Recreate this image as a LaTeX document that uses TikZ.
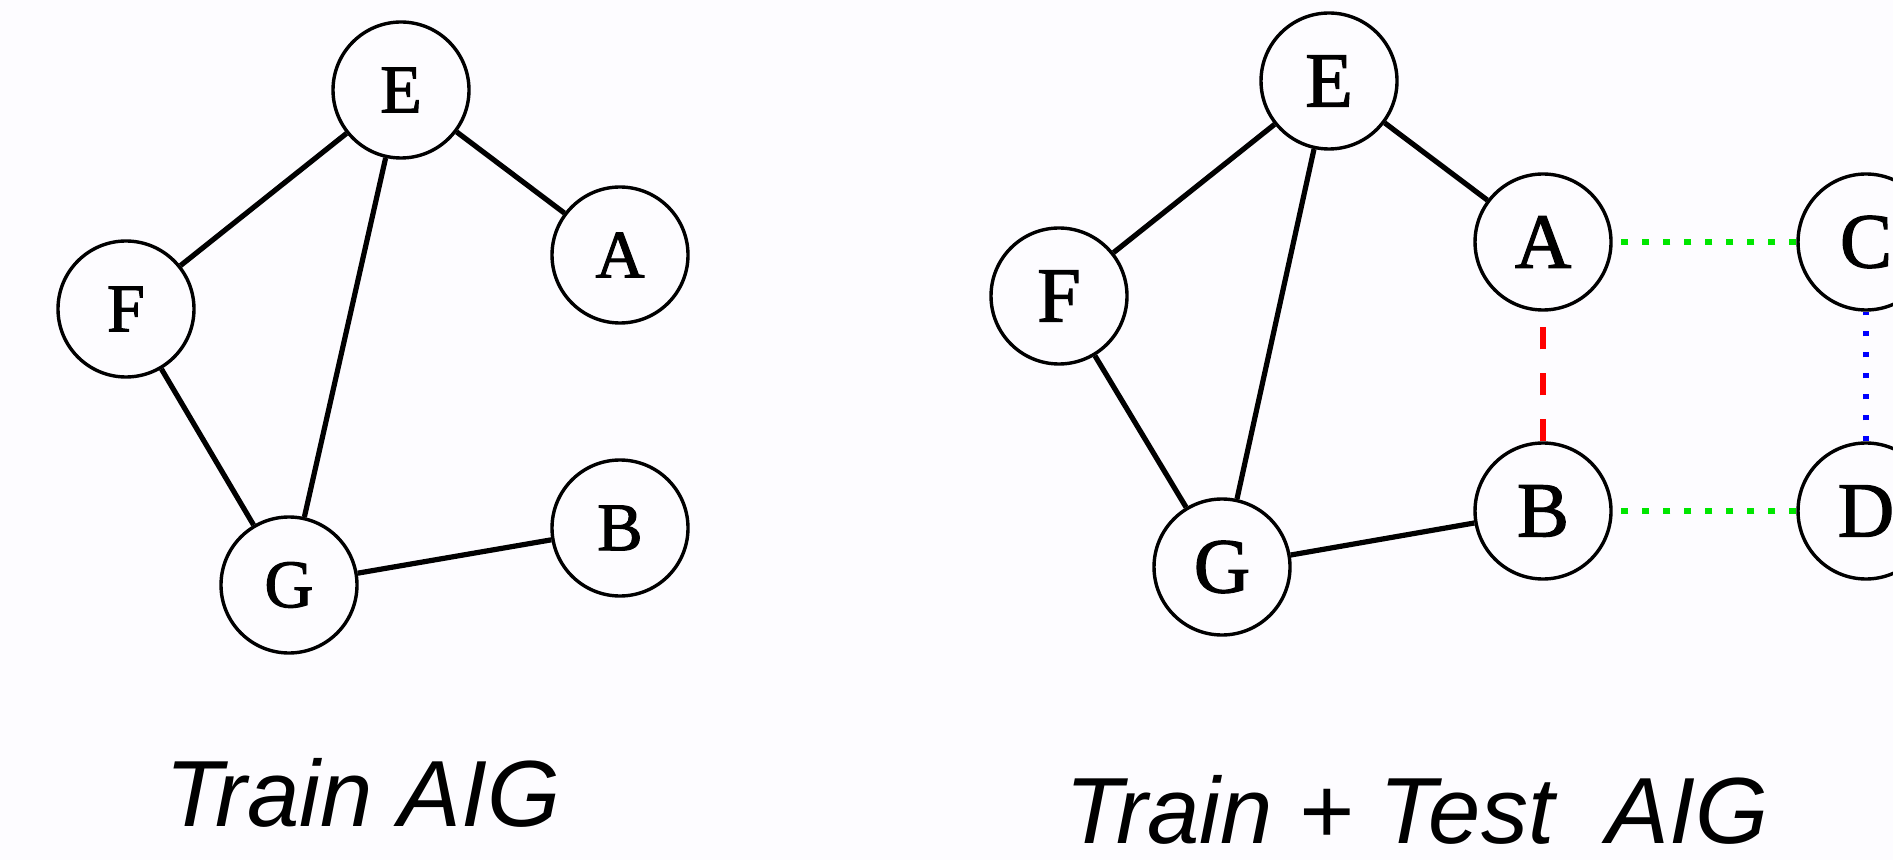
\documentclass[tikz,border=0pt]{standalone}
\usepackage{fontspec}
\setmainfont{Liberation Serif}
\newfontfamily\letterfont[FakeBold=1.6]{Liberation Serif}
\newfontfamily\captionfont{Liberation Sans}
\definecolor{paper}{RGB}{253,252,255}
\begin{document}
\begin{tikzpicture}[x=0.5pt,y=-0.5pt,
  vertex/.style={circle,draw,line width=1.7pt,inner sep=0pt,minimum size=68pt,fill=paper},
  smallletter/.style={font=\letterfont\fontsize{34pt}{34pt}\selectfont},
  bigletter/.style={font=\letterfont\fontsize{39pt}{39pt}\selectfont},
  edge/.style={line width=2.6pt},
  greenlink/.style={line width=3.2pt,draw={rgb,255:red,0;green,230;blue,0},dash pattern=on 3.5pt off 7pt},
  bluelink/.style={line width=2.6pt,draw={rgb,255:red,0;green,0;blue,255},dash pattern=on 2.5pt off 8pt},
  redlink/.style={line width=3pt,draw={rgb,255:red,255;green,0;blue,0},dash pattern=on 11pt off 12pt},
  caption/.style={font=\captionfont\itshape\fontsize{47pt}{47pt}\selectfont,anchor=base}
]
\useasboundingbox (0,0) rectangle (1893,860);
\clip (0,0) rectangle (1893,860);
\fill[paper] (0,0) rectangle (1893,860);

% training graph
\begin{scope}[every node/.style={vertex,smallletter}]
  \node (lE) at (401,90) {E};
  \node (lA) at (620,255) {A};
  \node (lF) at (126,309) {F};
  \node (lG) at (289,585) {G};
  \node (lB) at (620,528) {B};
\end{scope}
\draw[edge] (lE) -- (lF);
\draw[edge] (lE) -- (lG);
\draw[edge] (lE) -- (lA);
\draw[edge] (lF) -- (lG);
\draw[edge] (lG) -- (lB);
\node[caption] (ltitle) at (363,826) {Train AIG};

% training + test graph
\begin{scope}[every node/.style={vertex,bigletter}]
  \node (rE) at (1329,81) {E};
  \node (rA) at (1543,242) {A};
  \node (rC) at (1866,242) {C};
  \node (rF) at (1059,296) {F};
  \node (rG) at (1222,567) {G};
  \node (rB) at (1543,511) {B};
  \node (rD) at (1866,511) {D};
\end{scope}
\draw[edge] (rE) -- (rF);
\draw[edge] (rE) -- (rG);
\draw[edge] (rE) -- (rA);
\draw[edge] (rF) -- (rG);
\draw[edge] (rG) -- (rB);
\draw[greenlink] (rC) -- (rA);
\draw[greenlink] (rD) -- (rB);
\draw[redlink] (rB) -- (rA);
\draw[bluelink] (rD) -- (rC);
\node[caption] (rtitle) at (1417,843) {Train + Test\ \ AIG};
\end{tikzpicture}
\end{document}
